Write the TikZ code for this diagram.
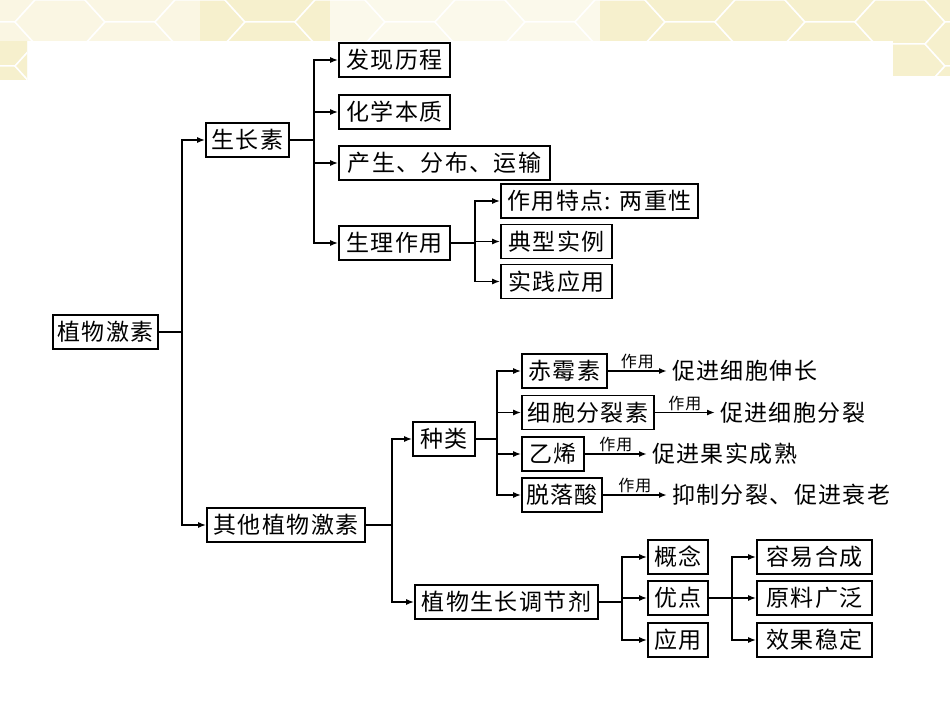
\documentclass[tikz,border=0pt]{standalone}
\usepackage{fontspec}
\setmainfont{Noto Sans CJK SC}[LetterSpace=6]
\usetikzlibrary{arrows.meta}
\definecolor{hexfill}{RGB}{246,240,205}
\definecolor{bandfill}{RGB}{251,248,232}
\tikzset{
  box/.style={draw, line width=1.6pt, minimum height=34pt, inner sep=0pt,
    font=\fontsize{23}{25}\selectfont},
  link/.style={line width=1.6pt},
  arr/.style={link, -{Latex[length=8pt,width=6pt]}},
  tag/.style={above, inner sep=1pt, font=\fontsize{16}{18}\selectfont},
  result/.style={anchor=west, inner sep=5pt, font=\fontsize{23}{25}\selectfont}
}
\begin{document}
\begin{tikzpicture}[x=1pt, y=-1pt]
        \useasboundingbox (0,0) rectangle (950,722);
        \fill[white] (0,0) rectangle (950,722);
        % background band
        \begin{scope}
          \clip (0,0) rectangle (950,41) (893,0) rectangle (950,76) (0,0) rectangle (27,80);
          \fill[bandfill] (0,0) rectangle (950,80);
          \foreach \i in {0,...,14}
            \foreach \j in {-1,0,1,2} {
              \pgfmathsetmacro{\cx}{\i*70-10}
              \pgfmathsetmacro{\cy}{\j*44+mod(\i,2)*22}
              \fill[hexfill, draw=white, line width=1.5pt, shift={(\cx,\cy)}]
                (-45,0) -- (-25,-22) -- (25,-22) -- (45,0) -- (25,22) -- (-25,22) -- cycle;
            }
          \fill[white, opacity=0.6] (330,0) rectangle (600,41);
          \fill[white, opacity=0.45] (0,0) rectangle (200,41);
        \end{scope}
        % boxes
        \node[box, minimum width=105pt] (root)  at (105.5,332) {植物激素};
        \node[box, minimum width=83pt]  (auxin) at (247.5,140) {生长素};
        \node[box, minimum width=158pt] (other) at (286,525)   {其他植物激素};
        \node[box, minimum width=111pt] (a1) at (394.5,60)  {发现历程};
        \node[box, minimum width=111pt] (a2) at (394.5,112) {化学本质};
        \node[box, minimum width=211pt] (a3) at (444.5,163) {产生、分布、运输};
        \node[box, minimum width=111pt] (a4) at (394.5,243) {生理作用};
        \node[box, minimum width=197pt] (b1) at (599.5,201) {作用特点: 两重性};
        \node[box, minimum width=111pt] (b2) at (556.5,241.5) {典型实例};
        \node[box, minimum width=111pt] (b3) at (556.5,281.5) {实践应用};
        \node[box, minimum width=62pt]  (kind) at (444,439) {种类};
        \node[box, minimum width=85pt]  (e1) at (564.5,371) {赤霉素};
        \node[box, minimum width=132pt] (e2) at (588,412.5) {细胞分裂素};
        \node[box, minimum width=62pt]  (e3) at (553,454)   {乙烯};
        \node[box, minimum width=80pt]  (e4) at (562,495)   {脱落酸};
        \node[box, minimum width=183pt] (reg) at (506.5,602) {植物生长调节剂};
        \node[box, minimum width=60pt]  (c1) at (678,557) {概念};
        \node[box, minimum width=60pt]  (c2) at (678,598) {优点};
        \node[box, minimum width=60pt]  (c3) at (678,640) {应用};
        \node[box, minimum width=115pt] (d1) at (814.5,557) {容易合成};
        \node[box, minimum width=115pt] (d2) at (814.5,598) {原料广泛};
        \node[box, minimum width=115pt] (d3) at (814.5,640) {效果稳定};
        % effects
        \node[result] (f1) at (667,371) {促进细胞伸长};
        \node[result] (f2) at (715,412.5) {促进细胞分裂};
        \node[result] (f3) at (647,454) {促进果实成熟};
        \node[result] (f4) at (667,495) {抑制分裂、促进衰老};
        % define point
        \coordinate (j1) at (182,332);
        \coordinate (j2) at (314,140);
        \coordinate (j3) at (475,243);
        \coordinate (j4) at (392,525);
        \coordinate (j5) at (497,439);
        \coordinate (j6) at (622,602);
        \coordinate (j7) at (732,598);
        % branches
        \draw[link] (root.east) -- (j1);
        \draw[arr] (j1) |- (auxin.west);
        \draw[arr] (j1) |- (other.west);
        \draw[link] (auxin.east) -- (j2);
        \foreach \n in {a1,a2,a3,a4}
          \draw[arr] (j2) |- (\n.west);
        \draw[link] (a4.east) -- (j3);
        \foreach \n in {b1,b2,b3}
          \draw[arr] (j3) |- (\n.west);
        \draw[link] (other.east) -- (j4);
        \draw[arr] (j4) |- (kind.west);
        \draw[arr] (j4) |- (reg.west);
        \draw[link] (kind.east) -- (j5);
        \foreach \n in {e1,e2,e3,e4}
          \draw[arr] (j5) |- (\n.west);
        \foreach \i in {1,...,4}
          \draw[arr] (e\i.east) -- node[tag] {作用} (f\i.west);
        \draw[link] (reg.east) -- (j6);
        \foreach \n in {c1,c2,c3}
          \draw[arr] (j6) |- (\n.west);
        \draw[link] (c2.east) -- (j7);
        \foreach \n in {d1,d2,d3}
          \draw[arr] (j7) |- (\n.west);
    \end{tikzpicture}
\end{document}
